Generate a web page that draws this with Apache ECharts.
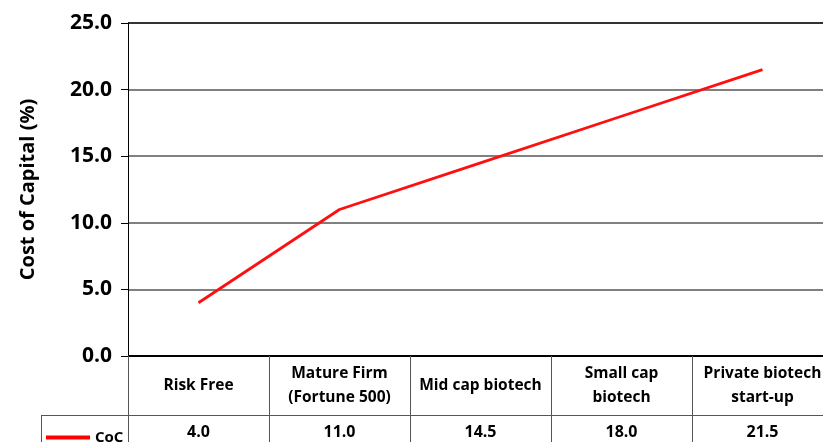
<!DOCTYPE html>
<html>
<head>
<meta charset="utf-8">
<script src="https://cdn.jsdelivr.net/npm/echarts@6/dist/echarts.min.js"></script>
<style>
  html, body { margin: 0; padding: 0; background: #fff; }
  #chart { width: 823px; height: 442px; }
</style>
</head>
<body>
<div id="chart"></div>
<script>
const categories = ['Risk Free', 'Mature Firm\n(Fortune 500)', 'Mid cap biotech', 'Small cap\nbiotech', 'Private biotech\nstart-up'];
const cocValues = [4.0, 11.0, 14.5, 18.0, 21.5];
const yTicks = [0, 5, 10, 15, 20, 25];

const FONT = '"Open Sans"';
const chart = echarts.init(document.getElementById('chart'), null, { renderer: 'canvas' });

chart.setOption({
  animation: false,
  backgroundColor: '#ffffff',
  // plot area runs past the right edge of the picture, as in the source
  grid: { left: 128, top: 23, width: 705, bottom: 86, outerBoundsMode: 'none' },
  legend: {
    data: ['CoC'],
    left: 41,
    top: 425,
    icon: 'rect',
    itemWidth: 44,
    itemHeight: 4,
    itemGap: 4,
    textStyle: { fontFamily: FONT, fontWeight: 'bold', fontSize: 15, color: '#000' }
  },
  xAxis: [
    {
      type: 'category',
      data: categories,
      boundaryGap: true,
      axisLine: { show: true, lineStyle: { color: '#000', width: 1 } },
      axisTick: { show: true, interval: 0, length: 86, lineStyle: { color: '#555', width: 1 } },
      axisLabel: {
        interval: 0,
        margin: 30,
        verticalAlign: 'middle',
        lineHeight: 24,
        fontFamily: FONT,
        fontWeight: 'bold',
        fontSize: 15.5,
        color: '#000'
      }
    },
    {
      type: 'category',
      position: 'bottom',
      offset: 68,
      data: cocValues.map((v) => v.toFixed(1)),
      boundaryGap: true,
      axisLine: { show: false },
      axisTick: { show: false },
      axisLabel: {
        interval: 0,
        margin: 0,
        fontFamily: FONT,
        fontWeight: 'bold',
        fontSize: 16,
        color: '#000'
      }
    }
  ],
  yAxis: {
    type: 'value',
    min: yTicks[0],
    max: yTicks[yTicks.length - 1],
    interval: 5,
    name: 'Cost of Capital (%)',
    nameLocation: 'middle',
    nameGap: 90,
    nameTextStyle: { fontFamily: FONT, fontWeight: 'bold', fontSize: 20, color: '#000' },
    axisLine: { show: true, lineStyle: { color: '#000', width: 1 } },
    axisTick: { show: true, length: 7, lineStyle: { color: '#000' } },
    axisLabel: {
      margin: 16,
      formatter: (v) => v.toFixed(1),
      fontFamily: FONT,
      fontWeight: 'bold',
      fontSize: 21,
      color: '#000'
    },
    splitLine: {
      show: true,
      lineStyle: { color: ['#000', '#808080', '#808080', '#808080', '#808080', '#333'], width: 2 }
    }
  },
  graphic: [
    { type: 'line', shape: { x1: 41, y1: 415.5, x2: 823, y2: 415.5 }, style: { stroke: '#555', lineWidth: 1 } },
    { type: 'line', shape: { x1: 41.5, y1: 415, x2: 41.5, y2: 442 }, style: { stroke: '#555', lineWidth: 1 } }
  ],
  series: [
    {
      name: 'CoC',
      type: 'line',
      data: cocValues,
      showSymbol: false,
      symbol: 'none',
      color: '#ff0000',
      lineStyle: { color: '#ff1010', width: 2.8 }
    }
  ]
});
</script>
</body>
</html>
